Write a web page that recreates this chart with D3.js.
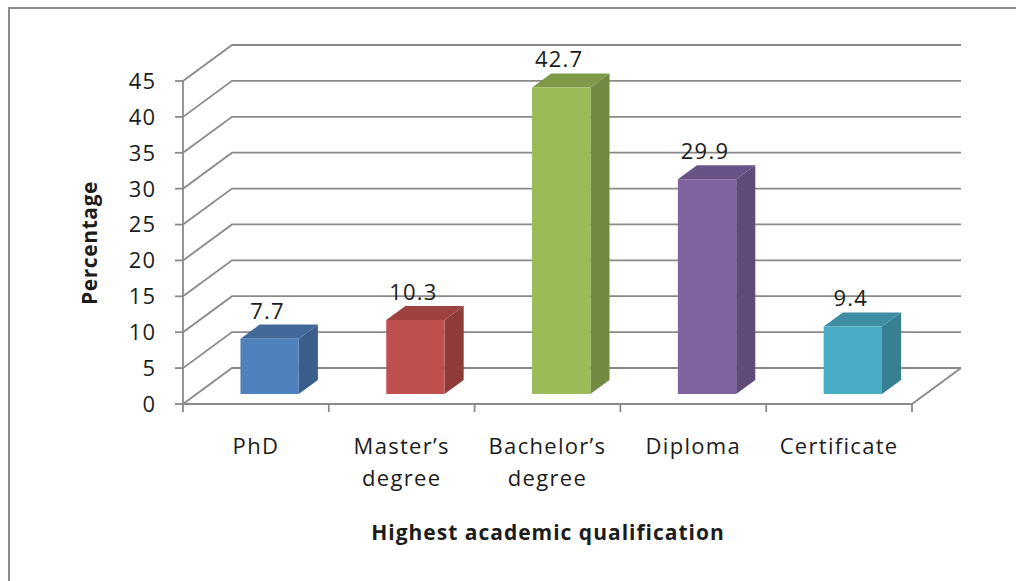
<!DOCTYPE html>
<html>
<head>
<meta charset="utf-8">
<script src="https://cdn.jsdelivr.net/npm/d3@7"></script>
<style>
  body { margin: 0; background: #fff; }
  text { font-family: "Open Sans", sans-serif; fill: #1c1c1c; }
</style>
</head>
<body>
<svg id="chart" width="1016" height="581"></svg>
<script>
// qualification categories and the share of respondents (%)
var categories = ["PhD", "Master’s\ndegree", "Bachelor’s\ndegree", "Diploma", "Certificate"];
var values = [7.7, 10.3, 42.7, 29.9, 9.4];
var yTicks = [0, 5, 10, 15, 20, 25, 30, 35, 40, 45];
var colors = ["#4f81bd", "#c0504d", "#9bbb59", "#8064a2", "#4bacc6"];

var svg = d3.select("#chart");

// outer frame (runs off the right and bottom)
svg.append("rect")
	.attr("x", 9)
	.attr("y", 8)
	.attr("width", 1100)
	.attr("height", 700)
	.attr("fill", "none")
	.attr("stroke", "#8c8c8c")
	.attr("stroke-width", 2);

var left = 183,
	right = 912,
	depthX = 49,
	depthY = -36,
	gridColor = "#8a8a8a";

var x = d3.scaleBand()
	.domain(categories)
	.range([left, right]);

var y = d3.scaleLinear()
	.domain([0, 45])
	.range([404, 81]);

// depth 0 = front plane, 1 = back wall
var dx = d3.scaleLinear().domain([0, 1]).range([0, depthX]),
	dy = d3.scaleLinear().domain([0, 1]).range([0, depthY]);

var grid = svg.append("g").attr("class", "grid");

// side wall diagonals + back wall lines
grid.selectAll("path.gl")
	.data(yTicks)
	.enter()
	.append("path")
	.attr("class", "gl")
	.attr("d", function(v) {
		return "M" + left + "," + y(v) +
			"L" + (left + dx(1)) + "," + (y(v) + dy(1)) +
			"L" + (right + dx(1)) + "," + (y(v) + dy(1));
	})
	.attr("fill", "none")
	.attr("stroke", gridColor)
	.attr("stroke-width", 1.8);

// floor edges
grid.append("path")
	.attr("d", "M" + left + "," + y(0) + "L" + right + "," + y(0) +
		"L" + (right + dx(1)) + "," + (y(0) + dy(1)))
	.attr("fill", "none")
	.attr("stroke", gridColor)
	.attr("stroke-width", 1.8);

// value axis
var yAxis = svg.append("g").attr("class", "y-axis");

yAxis.append("line")
	.attr("x1", left).attr("x2", left)
	.attr("y1", y(45)).attr("y2", y(0))
	.attr("stroke", gridColor)
	.attr("stroke-width", 1.8);

yAxis.selectAll("line.tick")
	.data(yTicks)
	.enter()
	.append("line")
	.attr("class", "tick")
	.attr("x1", left - 8).attr("x2", left)
	.attr("y1", function(v) { return y(v); })
	.attr("y2", function(v) { return y(v); })
	.attr("stroke", gridColor)
	.attr("stroke-width", 1.8);

yAxis.selectAll("text")
	.data(yTicks)
	.enter()
	.append("text")
	.attr("x", 156)
	.attr("y", function(v) { return y(v); })
	.attr("dy", "0.36em")
	.attr("text-anchor", "end")
	.style("font-size", "22px")
	.style("letter-spacing", "1px")
	.text(function(v) { return v; });

// category axis ticks
var xAxis = svg.append("g").attr("class", "x-axis");

xAxis.selectAll("line")
	.data(categories.concat(["end"]))
	.enter()
	.append("line")
	.attr("x1", function(d, i) { return left + i * x.bandwidth(); })
	.attr("x2", function(d, i) { return left + i * x.bandwidth(); })
	.attr("y1", y(0))
	.attr("y2", y(0) + 8)
	.attr("stroke", gridColor)
	.attr("stroke-width", 1.8);

var catLabels = xAxis.selectAll("text")
	.data(categories)
	.enter()
	.append("text")
	.attr("text-anchor", "middle")
	.style("font-size", "22px")
	.style("letter-spacing", "1.3px");

catLabels.selectAll("tspan")
	.data(function(d) { return d.split("\n").map(function(t) { return {text: t, cat: d}; }); })
	.enter()
	.append("tspan")
	.attr("x", function(d) { return x(d.cat) + x.bandwidth() / 2; })
	.attr("y", function(d, i) { return 454 + i * 32; })
	.text(function(d) { return d.text; });

// 3d columns
var barW = x.bandwidth() * 0.4,
	zFront = 0.28,
	zBack = 0.67;

var bars = svg.selectAll("g.bar")
	.data(values)
	.enter()
	.append("g")
	.attr("class", "bar");

function corner(i, v, side, z) {
	var cx = x(categories[i]) + x.bandwidth() / 2;
	var px = cx + (side ? barW / 2 : -barW / 2) + dx(z);
	var py = y(v) + dy(z);
	return px + "," + py;
}

// right side face
bars.append("path")
	.attr("d", function(v, i) {
		return "M" + corner(i, 0, 1, zFront) + "L" + corner(i, v, 1, zFront) +
			"L" + corner(i, v, 1, zBack) + "L" + corner(i, 0, 1, zBack) + "Z";
	})
	.attr("fill", function(v, i) { return d3.color(colors[i]).darker(0.85); });

// top face
bars.append("path")
	.attr("d", function(v, i) {
		return "M" + corner(i, v, 0, zFront) + "L" + corner(i, v, 1, zFront) +
			"L" + corner(i, v, 1, zBack) + "L" + corner(i, v, 0, zBack) + "Z";
	})
	.attr("fill", function(v, i) { return d3.color(colors[i]).darker(0.55); });

// front face
bars.append("path")
	.attr("d", function(v, i) {
		return "M" + corner(i, 0, 0, zFront) + "L" + corner(i, v, 0, zFront) +
			"L" + corner(i, v, 1, zFront) + "L" + corner(i, 0, 1, zFront) + "Z";
	})
	.attr("fill", function(v, i) { return colors[i]; });

// value labels above each column
bars.append("text")
	.attr("x", function(v, i) { return x(categories[i]) + x.bandwidth() / 2 + dx(zFront) - 2; })
	.attr("y", function(v) { return y(v) + dy(zBack) - 6; })
	.attr("text-anchor", "middle")
	.style("font-size", "22px")
	.style("letter-spacing", "1.2px")
	.text(function(v) { return v; });

// axis titles
svg.append("text")
	.attr("transform", "translate(97,243) rotate(-90)")
	.attr("text-anchor", "middle")
	.style("font-size", "21px")
	.style("font-weight", "bold")
	.style("letter-spacing", "0.6px")
	.text("Percentage");

svg.append("text")
	.attr("x", 548)
	.attr("y", 540)
	.attr("text-anchor", "middle")
	.style("font-size", "21px")
	.style("font-weight", "bold")
	.style("letter-spacing", "1px")
	.text("Highest academic qualification");
</script>
</body>
</html>
